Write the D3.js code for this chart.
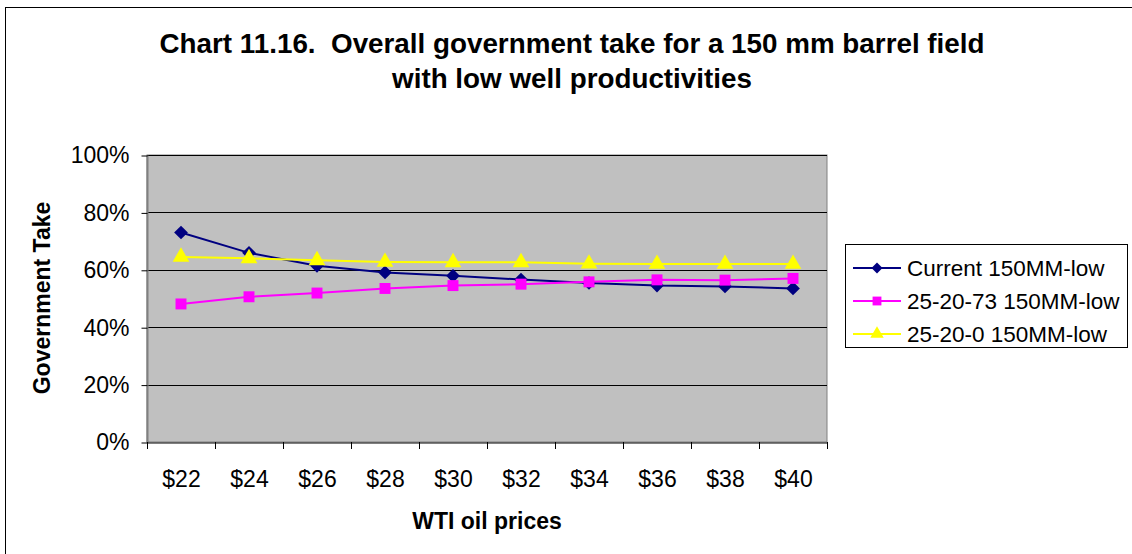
<!DOCTYPE html>
<html><head><meta charset="utf-8">
<script src="https://cdn.jsdelivr.net/npm/d3@7"></script>
<style>body{margin:0;background:#fff}svg{display:block;font-family:"Liberation Sans",Arial,sans-serif}</style>
</head><body><svg id="c" width="1132" height="554"></svg>
<script>
const categories = ["$22","$24","$26","$28","$30","$32","$34","$36","$38","$40"];
const current = [0.730,0.659,0.614,0.591,0.579,0.566,0.554,0.545,0.542,0.535];
const p252073 = [0.481,0.506,0.519,0.535,0.545,0.550,0.558,0.565,0.564,0.570];
const p25200 = [0.645,0.640,0.633,0.627,0.626,0.626,0.621,0.620,0.620,0.620];
const seriesNames = ["Current 150MM-low","25-20-73 150MM-low","25-20-0 150MM-low"];
const yTicks = [0,0.2,0.4,0.6,0.8,1.0];
const titleLines = ["Chart 11.16.\u00A0 Overall government take for a 150 mm barrel field","with low well productivities"];

const svg = d3.select("#c");
const L=147,R=827,T=155,B=442;
const x = d3.scaleBand().domain(categories).range([L,R]);
const y = d3.scaleLinear().domain([0,1]).range([B,T]);

svg.append("rect").attr("x",5.5).attr("y",7.5).attr("width",1140).attr("height",560).attr("fill","#fff").attr("stroke","#000").attr("stroke-width",1);

// title
const tt = svg.append("text").attr("text-anchor","middle").attr("font-weight","bold").attr("font-size",27.8).attr("fill","#000");
titleLines.forEach((t,i)=>tt.append("tspan").attr("x",572).attr("y",53+i*35).text(t));

// plot area
svg.append("rect").attr("x",L).attr("y",T).attr("width",R-L).attr("height",B-T).attr("fill","#C0C0C0").attr("stroke","#808080").attr("stroke-width",1);
// gridlines
svg.append("g").selectAll("line").data(yTicks.filter(d=>d>0)).join("line")
  .attr("x1",L).attr("x2",R).attr("y1",d=>Math.round(y(d))+0.5).attr("y2",d=>Math.round(y(d))+0.5).attr("stroke","#000");

// y axis
const ya = svg.append("g").attr("transform",`translate(${L+0.5},0.5)`)
  .call(d3.axisLeft(y).tickValues(yTicks).tickFormat(d3.format(".0%")).tickSize(6).tickPadding(12));
ya.select(".domain").attr("stroke","#808080").attr("stroke-width",2).attr("d",`M0,${T}V${B}`);
ya.selectAll(".tick line").attr("stroke","#000");
ya.selectAll("text").attr("font-size",23).attr("fill","#000").attr("font-family","Liberation Sans, Arial, sans-serif");

// x axis
const xa = svg.append("g").attr("transform",`translate(0.5,${B+0.5})`)
  .call(d3.axisBottom(x).tickSize(0).tickPadding(28));
xa.select(".domain").attr("stroke","#000");
xa.selectAll("text").attr("font-size",23).attr("fill","#000").attr("font-family","Liberation Sans, Arial, sans-serif");
svg.append("g").selectAll("line").data(categories.concat([null])).join("line")
  .attr("x1",(d,i)=>Math.round(L+i*x.step())+0.5).attr("x2",(d,i)=>Math.round(L+i*x.step())+0.5)
  .attr("y1",B).attr("y2",B+7).attr("stroke","#000");

// axis titles
svg.append("text").attr("x",487).attr("y",529).attr("text-anchor","middle").attr("font-weight","bold").attr("font-size",23).text("WTI oil prices");
svg.append("text").attr("transform","translate(50,298) rotate(-90)").attr("text-anchor","middle").attr("font-weight","bold").attr("font-size",23).text("Government Take");

const colors = ["#000080","#FF00FF","#FFFF00"];
const data = [current,p252073,p25200];
const cx = c=>x(c)+x.bandwidth()/2;
const line = d3.line().x((d,i)=>cx(categories[i])).y(d=>y(d));
const shapes = [d3.symbolDiamond2,d3.symbolSquare,d3.symbolTriangle];
const sizes = [120,120,120];
data.forEach((vals,k)=>{
  svg.append("path").attr("d",line(vals)).attr("fill","none").attr("stroke",colors[k]).attr("stroke-width",2);
  svg.append("g").selectAll("path").data(vals).join("path")
    .attr("transform",(d,i)=>`translate(${cx(categories[i])},${y(d)})`)
    .attr("d",d3.symbol().type(shapes[k]).size(sizes[k])).attr("fill",colors[k]);
});

// legend
svg.append("rect").attr("x",845.5).attr("y",244.5).attr("width",282).attr("height",103).attr("fill","#fff").attr("stroke","#000");
const ly=[268,301,334];
seriesNames.forEach((n,k)=>{
  svg.append("line").attr("x1",853).attr("x2",901).attr("y1",ly[k]).attr("y2",ly[k]).attr("stroke",colors[k]).attr("stroke-width",2);
  svg.append("path").attr("transform",`translate(877,${ly[k]})`).attr("d",d3.symbol().type(shapes[k]).size(sizes[k]*0.65)).attr("fill",colors[k]);
  svg.append("text").attr("x",907).attr("y",ly[k]+8).attr("font-size",22.5).attr("fill","#000").text(n);
});
</script></body></html>
